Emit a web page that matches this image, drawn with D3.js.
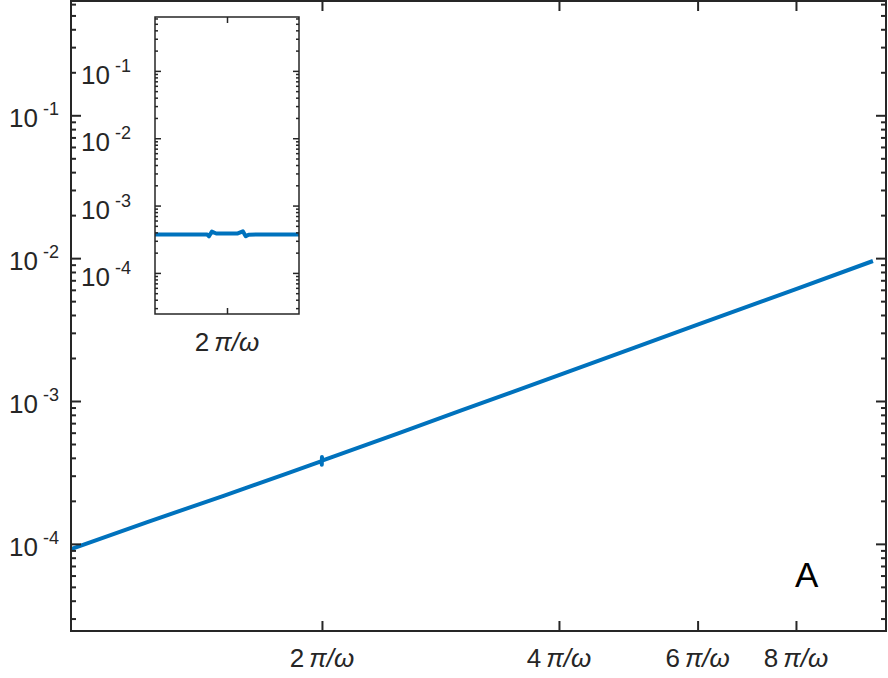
<!DOCTYPE html>
<html>
<head>
<meta charset="utf-8">
<script src="https://cdn.jsdelivr.net/npm/d3@7"></script>
<style>
  body { margin: 0; background: #fff; }
  svg { display: block; font-family: "Liberation Sans", Arial, Helvetica, sans-serif; }
</style>
</head>
<body>
<div id="chart"></div>
<script>
// time in units of pi/omega, value on log axis
const mainT = [0.96, 1.2, 1.5, 1.8, 1.998, 1.999, 2.0, 2.001, 2.5, 3, 4, 5, 6, 8, 10.02];
const mainV = [9.2e-5, 1.42e-4, 2.17e-4, 3.09e-4, 3.8e-4, 3.58e-4, 4.05e-4, 3.82e-4,
               5.94e-4, 8.55e-4, 1.52e-3, 2.37e-3, 3.42e-3, 6.08e-3, 9.55e-3];

// inset: zoom around t = 2 pi/omega
const insetT = [1.98, 1.99, 1.9945, 1.995, 1.9958, 1.997, 2.0, 2.003, 2.0044, 2.0052, 2.006, 2.01, 2.02];
const insetV = [3.73e-4, 3.73e-4, 3.72e-4, 3.5e-4, 4.1e-4, 3.85e-4, 3.85e-4, 3.86e-4,
                4.15e-4, 3.5e-4, 3.7e-4, 3.72e-4, 3.72e-4];

const xTicks = [2, 4, 6, 8];
const insetXTicks = [2];
const yTicks = [1e-4, 1e-3, 1e-2, 1e-1];
const yDomain = [Math.pow(10, -4.61), Math.pow(10, -0.2)];

const W = 888, H = 678;
const axisColor = "#262626", lineColor = "#0072BD";

const svg = d3.select("#chart").append("svg")
    .attr("width", W)
    .attr("height", H);

// main axes box
const main = {left: 71, right: 886, top: 1, bottom: 631};
const x = d3.scaleLog().domain([0.96, 10.41]).range([main.left, main.right]);
const y = d3.scaleLog().domain(yDomain).range([main.bottom, main.top]);

function piLabel(g, v, xp, yp, fs) {
  const t = g.append("text")
      .attr("x", xp).attr("y", yp)
      .attr("text-anchor", "middle")
      .attr("font-size", fs)
      .attr("fill", axisColor);
  t.append("tspan").text(v);
  t.append("tspan").attr("dx", 5).attr("font-style", "italic").text("π/ω");
}

function powLabel(g, v, xp, yp) {
  const e = Math.round(Math.log10(v));
  const t = g.append("text")
      .attr("x", xp).attr("y", yp)
      .attr("text-anchor", "end")
      .attr("font-size", 26)
      .attr("fill", axisColor);
  t.append("tspan").text("10");
  t.append("tspan").attr("dx", 5).attr("dy", -12).attr("font-size", 18).text("-" + Math.abs(e));
}

function drawAxes(g, xs, ys, box, xt, majLen, minLen, sw) {
  const minors = ys.ticks().filter(d => yTicks.indexOf(d) < 0 && Math.abs(Math.log10(d) - Math.round(Math.log10(d))) > 1e-6);
  const parts = [
    [d3.axisLeft(ys).tickValues(yTicks).tickSize(-majLen), `translate(${box.left},0)`],
    [d3.axisLeft(ys).tickValues(minors).tickSize(-minLen), `translate(${box.left},0)`],
    [d3.axisRight(ys).tickValues(yTicks).tickSize(-majLen), `translate(${box.right},0)`],
    [d3.axisRight(ys).tickValues(minors).tickSize(-minLen), `translate(${box.right},0)`],
    [d3.axisBottom(xs).tickValues(xt).tickSize(-majLen), `translate(0,${box.bottom})`],
    [d3.axisTop(xs).tickValues(xt).tickSize(-majLen), `translate(0,${box.top})`]
  ];
  parts.forEach(p => {
    const a = g.append("g")
        .attr("transform", p[1])
        .call(p[0].tickFormat(""));
    a.select(".domain").remove();
    a.selectAll("line").attr("stroke", axisColor).attr("stroke-width", sw);
  });
  g.append("rect")
      .attr("x", box.left).attr("y", box.top)
      .attr("width", box.right - box.left)
      .attr("height", box.bottom - box.top)
      .attr("fill", "none")
      .attr("stroke", axisColor)
      .attr("stroke-width", sw);
}

const gMain = svg.append("g");
svg.append("clipPath").attr("id", "clipMain").append("rect")
    .attr("x", main.left).attr("y", main.top)
    .attr("width", main.right - main.left).attr("height", main.bottom - main.top);

const mainData = mainT.map((t, i) => [t, mainV[i]]);
gMain.append("path")
    .datum(mainData)
    .attr("clip-path", "url(#clipMain)")
    .attr("fill", "none")
    .attr("stroke", lineColor)
    .attr("stroke-width", 4)
    .attr("stroke-linejoin", "round")
    .attr("d", d3.line().x(d => x(d[0])).y(d => y(d[1])));

drawAxes(gMain, x, y, main, xTicks, 10, 5, 2);

yTicks.forEach(v => powLabel(gMain, v, 59, y(v) + 12));
xTicks.forEach(v => piLabel(gMain, v, x(v), 667, 26));

gMain.append("text")
    .attr("x", 795).attr("y", 587)
    .attr("font-size", 35)
    .attr("fill", "#000")
    .text("A");

// inset
const ins = {left: 155, right: 299, top: 17, bottom: 314};
const xi = d3.scaleLinear().domain([1.98, 2.02]).range([ins.left, ins.right]);
const yi = d3.scaleLog().domain(yDomain).range([ins.bottom, ins.top]);

const gIns = svg.append("g");
gIns.append("rect")
    .attr("x", ins.left).attr("y", ins.top)
    .attr("width", ins.right - ins.left).attr("height", ins.bottom - ins.top)
    .attr("fill", "#fff");

const insetData = insetT.map((t, i) => [t, insetV[i]]);
gIns.append("path")
    .datum(insetData)
    .attr("fill", "none")
    .attr("stroke", lineColor)
    .attr("stroke-width", 4)
    .attr("stroke-linejoin", "round")
    .attr("d", d3.line().x(d => xi(d[0])).y(d => yi(d[1])));

drawAxes(gIns, xi, yi, ins, insetXTicks, 6, 3, 1.5);

yTicks.forEach(v => powLabel(gIns, v, 131, yi(v) + 13));
insetXTicks.forEach(v => piLabel(gIns, v, xi(v), 351, 26));
</script>
</body>
</html>
